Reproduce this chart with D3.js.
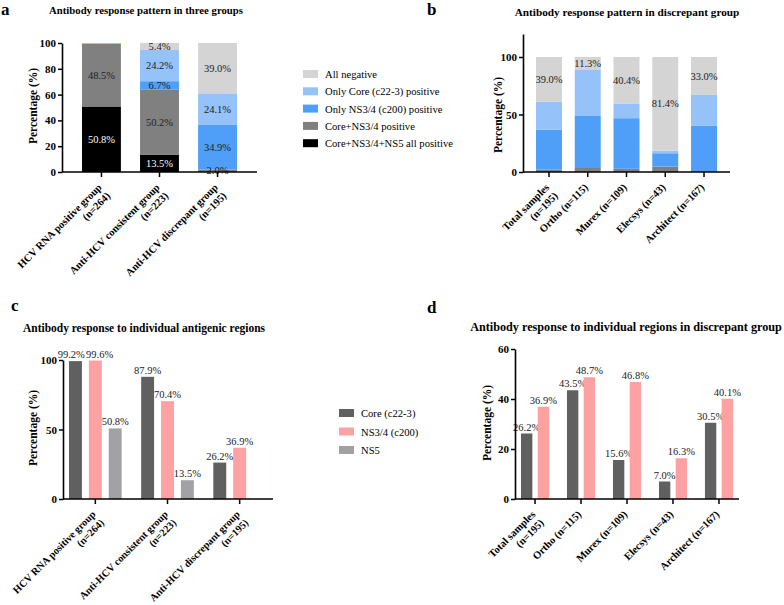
<!DOCTYPE html>
<html>
<head>
<meta charset="utf-8">
<script src="https://cdn.jsdelivr.net/npm/d3@7"></script>
<style>
body { margin: 0; background: #fff; }
svg { display: block; }
</style>
</head>
<body>
<div id="chart"></div>
<script>
var chart_width  = 784;
var chart_height = 605;
var FONT = '"Liberation Serif", "Times New Roman", Times, serif';

// ---- data: panel a (stack per group) ----
var groupsA   = [['HCV RNA positive group', '(n=264)'],
                 ['Anti-HCV consistent group', '(n=223)'],
                 ['Anti-HCV discrepant group', '(n=195)']];
var allPosA   = [50.8, 13.5, 0];
var coreNsA   = [48.5, 50.2, 2.0];
var onlyNsA   = [0.4, 6.7, 34.9];
var onlyCoreA = [0.3, 24.2, 24.1];
var allNegA   = [0, 5.4, 39.0];

// ---- data: panel b (stack per assay) ----
var assays    = [['Total samples', '(n=195)'], ['Ortho (n=115)'], ['Murex (n=109)'],
                 ['Elecsys (n=43)'], ['Architect (n=167)']];
var allPosB   = [0, 0, 0, 0, 0];
var coreNsB   = [2.0, 3.5, 2.8, 4.7, 0];
var onlyNsB   = [34.9, 45.2, 44.0, 11.6, 40.1];
var onlyCoreB = [24.1, 40.0, 12.8, 2.3, 26.9];
var allNegB   = [39.0, 11.3, 40.4, 81.4, 33.0];

// ---- data: panel c (grouped) ----
var coreC = [99.2, 87.9, 26.2];
var ns34C = [99.6, 70.4, 36.9];
var ns5C  = [50.8, 13.5, 0];

// ---- data: panel d (grouped) ----
var coreD = [26.2, 43.5, 15.6, 7.0, 30.5];
var ns34D = [36.9, 48.7, 46.8, 16.3, 40.1];

var stackKeys   = ['allPos', 'coreNs', 'onlyNs', 'onlyCore', 'allNeg'];
var stackNames  = ['Core+NS3/4+NS5 all positive', 'Core+NS3/4 positive',
                   'Only NS3/4 (c200) positive', 'Only Core (c22-3) positive', 'All negative'];
var stackColors = ['#000000', '#808080', '#4f9ff8', '#94c2f9', '#d4d4d4'];

var regionNames  = ['Core (c22-3)', 'NS3/4 (c200)', 'NS5'];
var regionColors = ['#606060', '#fda1a2', '#a2a2a6'];

var svg = d3.select('#chart')
            .append('svg')
            .attr('width', chart_width)
            .attr('height', chart_height)
            .style('font-family', FONT);

function styleAxis(g) {
    g.attr('font-family', null);
    g.select('.domain').attr('stroke', '#000').attr('stroke-width', 1.6);
    g.selectAll('.tick line').attr('stroke', '#000').attr('stroke-width', 1.5);
    g.selectAll('.tick text').attr('fill', '#000')
        .style('font-family', FONT)
        .style('font-size', '11px').style('font-weight', 'bold');
}

function yAxis(y, x, ticks) {
    var g = svg.append('g').attr('transform', 'translate(' + x + ',0)')
        .call(d3.axisLeft(y).tickValues(ticks).tickSize(4).tickPadding(2).tickSizeOuter(0));
    styleAxis(g);
}

function xAxis(x, y0, xStart, xEnd, labels, size) {
    var g = svg.append('g').attr('transform', 'translate(0,' + y0 + ')')
        .call(d3.axisBottom(x).tickSize(5).tickFormat(''));
    styleAxis(g);
    g.select('.domain').remove();
    svg.append('line')
        .attr('x1', xStart).attr('x2', xEnd)
        .attr('y1', y0).attr('y2', y0)
        .attr('stroke', '#000').attr('stroke-width', 1.6);
    labels.forEach((lines, i) => {
        var t = svg.append('text')
            .attr('transform', 'translate(' + (x(i) + x.bandwidth() / 2 + 1) + ',' + (y0 + 16) + ') rotate(-45)')
            .attr('text-anchor', 'end')
            .style('font-size', size + 'px').style('font-weight', 'bold');
        lines.forEach((l, j) => {
            t.append('tspan').attr('x', 0).attr('dy', j ? '1.15em' : 0).text(l);
        });
    });
}

function yTitle(x, y) {
    svg.append('text')
        .attr('transform', 'translate(' + x + ',' + y + ') rotate(-90)')
        .attr('text-anchor', 'middle')
        .style('font-size', '11.5px').style('font-weight', 'bold')
        .text('Percentage (%)');
}

// title sized to the width it takes in the reference
function title(cx, y, width, s) {
    var t = svg.append('text').attr('x', cx).attr('y', y)
        .attr('text-anchor', 'middle')
        .style('font-size', '11px').style('font-weight', 'bold')
        .text(s);
    var w = t.node().getComputedTextLength();
    if (w > 0) t.style('font-size', (11 * width / w).toFixed(2) + 'px');
}

function letter(x, y, s) {
    svg.append('text').attr('x', x).attr('y', y)
        .style('font-size', '17px').style('font-weight', 'bold')
        .text(s);
}

function legend(x, y, gap, names, colors) {
    names.forEach((n, i) => {
        svg.append('rect').attr('x', x).attr('y', y + i * gap - 4)
            .attr('width', 15).attr('height', 8).attr('fill', colors[i]);
        svg.append('text').attr('x', x + 22).attr('y', y + i * gap + 4)
            .style('font-size', '10.6px').text(n);
    });
}

function stackedPanel(rows, x, y, labelFn) {
    var series = d3.stack().keys(stackKeys)(rows);
    series.forEach((s, k) => {
        svg.append('g').selectAll('rect')
            .data(s)
            .enter()
            .append('rect')
            .attr('x', (d, i) => x(i))
            .attr('width', x.bandwidth())
            .attr('y', (d) => y(d[1]))
            .attr('height', (d) => y(d[0]) - y(d[1]))
            .attr('fill', stackColors[k]);
    });
    series.forEach((s, k) => {
        svg.append('g').selectAll('text')
            .data(s.filter((d) => labelFn(stackKeys[k], d[1] - d[0])))
            .enter()
            .append('text')
            .attr('x', (d) => x(s.indexOf(d)) + x.bandwidth() / 2)
            .attr('y', (d) => (y(d[0]) + y(d[1])) / 2)
            .attr('dy', '0.35em')
            .attr('text-anchor', 'middle')
            .attr('fill', stackKeys[k] === 'allPos' ? '#fff' : '#222')
            .style('font-size', '10.5px')
            .text((d) => (d[1] - d[0]).toFixed(1) + '%');
    });
}

function groupedPanel(values, x, sub, y) {
    var labels = [];
    values.forEach((vals, k) => {
        var pts = vals.map((v, i) => ({ i: i, v: v })).filter((d) => d.v > 0);
        svg.append('g').selectAll('rect')
            .data(pts)
            .enter()
            .append('rect')
            .attr('x', (d) => x(d.i) + sub(k))
            .attr('width', sub.bandwidth())
            .attr('y', (d) => y(d.v))
            .attr('height', (d) => y(0) - y(d.v))
            .attr('fill', regionColors[k]);
        svg.append('g').selectAll('text')
            .data(pts)
            .enter()
            .append('text')
            .attr('x', (d) => x(d.i) + sub(k) + sub.bandwidth() / 2)
            .attr('y', (d) => y(d.v) - 3)
            .attr('text-anchor', 'middle')
            .attr('fill', '#222')
            .style('font-size', '10.5px')
            .text((d) => d.v.toFixed(1) + '%')
            .each(function (d) { labels.push({ node: this, i: d.i, k: k }); });
    });
    // push apart labels of neighbouring bars that would collide
    labels.sort((a, b) => a.i - b.i || a.k - b.k);
    for (var n = 1; n < labels.length; n++) {
        var a = labels[n - 1], b = labels[n];
        if (a.i !== b.i) continue;
        var ba = a.node.getBBox(), bb = b.node.getBBox();
        var dx = ba.x + ba.width - bb.x;
        if (dx > 0 && Math.abs(ba.y - bb.y) < ba.height) {
            d3.select(a.node).attr('x', +d3.select(a.node).attr('x') - dx / 2 - 0.5);
            d3.select(b.node).attr('x', +d3.select(b.node).attr('x') + dx / 2 + 0.5);
        }
    }
}

function toRows(cols, n) {
    return d3.range(n).map((i) => {
        var r = {};
        stackKeys.forEach((k, j) => { r[k] = cols[j][i]; });
        return r;
    });
}

// ---------- panel a ----------
var xA = d3.scaleBand().domain(d3.range(groupsA.length)).range([82, 237]).paddingInner(0.33).paddingOuter(0);
var yA = d3.scaleLinear().domain([0, 100]).range([172, 43]);
stackedPanel(toRows([allPosA, coreNsA, onlyNsA, onlyCoreA, allNegA], groupsA.length), xA, yA,
    (k, v) => v >= 2);
yAxis(yA, 62, [0, 20, 40, 60, 80, 100]);
xAxis(xA, 172, 62, 257, groupsA, 10.5);
yTitle(37, 106);
title(146, 14, 194, 'Antibody response pattern in three groups');
letter(1, 15, 'a');
legend(303, 74, 17.3, stackNames.slice().reverse(), stackColors.slice().reverse());

// ---------- panel b ----------
var xB = d3.scaleBand().domain(d3.range(assays.length)).range([536, 717]).paddingInner(0.33).paddingOuter(0);
var yB = d3.scaleLinear().domain([0, 120]).range([172, 34]);
stackedPanel(toRows([allPosB, coreNsB, onlyNsB, onlyCoreB, allNegB], assays.length), xB, yB,
    (k, v) => k === 'allNeg');
yAxis(yB, 523, [0, 50, 100]);
xAxis(xB, 172, 523, 730, assays, 10.5);
yTitle(502, 115);
title(627, 16, 225, 'Antibody response pattern in discrepant group');
letter(427, 15, 'b');

// ---------- panel c ----------
var xC = d3.scaleBand().domain(d3.range(groupsA.length)).range([69, 266]).paddingInner(0.27).paddingOuter(0);
var subC = d3.scaleBand().domain([0, 1, 2]).range([0, xC.bandwidth()]).paddingInner(0.35).paddingOuter(0);
var yC = d3.scaleLinear().domain([0, 100]).range([499, 360]);
groupedPanel([coreC, ns34C, ns5C], xC, subC, yC);
yAxis(yC, 63, [0, 50, 100]);
xAxis(xC, 499, 63, 273, groupsA, 10.3);
yTitle(37, 428);
title(144, 332, 242, 'Antibody response to individual antigenic regions');
letter(11, 311, 'c');
legend(339, 413, 18.5, regionNames, regionColors);

// ---------- panel d ----------
var xD = d3.scaleBand().domain(d3.range(assays.length)).range([521, 733]).paddingInner(0.39).paddingOuter(0);
var subD = d3.scaleBand().domain([0, 1]).range([0, xD.bandwidth()]).paddingInner(0.32).paddingOuter(0);
var yD = d3.scaleLinear().domain([0, 60]).range([499, 349]);
groupedPanel([coreD, ns34D], xD, subD, yD);
yAxis(yD, 515, [0, 20, 40, 60]);
xAxis(xD, 499, 515, 739, assays, 10.5);
yTitle(491, 423);
title(626, 331, 312, 'Antibody response to individual regions in discrepant group');
letter(427, 313, 'd');
</script>
</body>
</html>
